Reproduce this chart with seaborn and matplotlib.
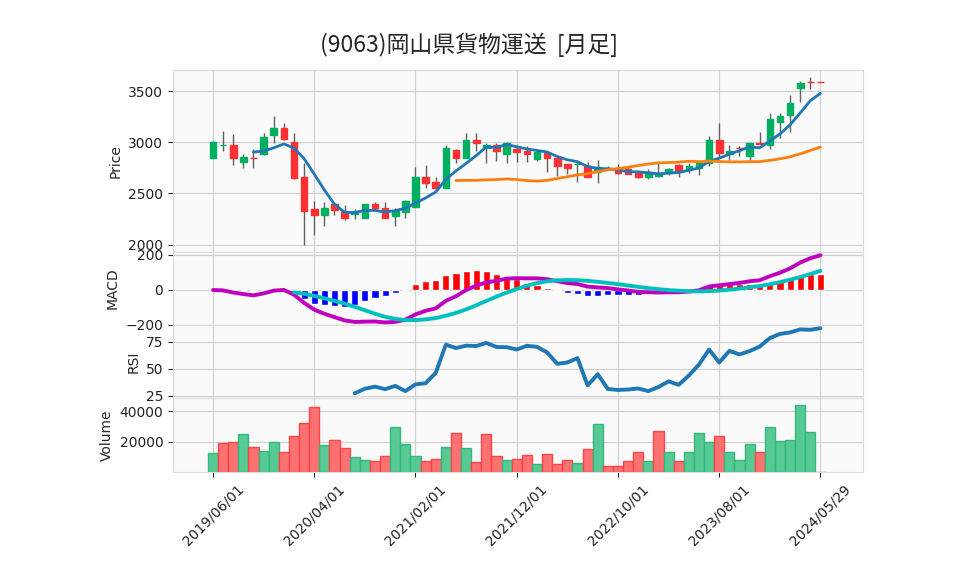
import numpy as np
import pandas as pd
import seaborn as sns
import matplotlib.pyplot as plt

# ---- data (monthly bars + last partial bar) ----
title = '(9063)岡山県貨物運送  [月足]'
dates = list(pd.date_range('2019-06-01', periods=60, freq='MS').strftime('%Y/%m/%d')) + ['2024/05/29']

opens = [2850, 2970, 2977, 2812, 2850, 2888, 3069, 3135, 3003, 2658,
         2345, 2293, 2401, 2319, 2295, 2261, 2395, 2362, 2278, 2323,
         2369, 2657, 2611, 2555, 2925, 2843, 3023, 2941, 2974, 2882,
         2935, 2915, 2833, 2892, 2843, 2784, 2784, 2768, 2706, 2748,
         2742, 2735, 2696, 2657, 2670, 2696, 2775, 2738, 2745, 2794,
         3023, 2885, 2945, 2866, 2993, 2974, 3203, 3268, 3529, 3590,
         3590]
highs = [3010, 3115, 3082, 2885, 2937, 3092, 3257, 3190, 3092, 2796,
         2424, 2418, 2405, 2385, 2343, 2400, 2418, 2418, 2362, 2434,
         2755, 2778, 2657, 2974, 2935, 3095, 3088, 2990, 2990, 3000,
         2974, 2964, 2910, 2900, 2850, 2790, 2795, 2810, 2827, 2770,
         2788, 2755, 2700, 2735, 2800, 2750, 2785, 2800, 2820, 3062,
         3186, 2974, 2960, 2997, 3105, 3291, 3291, 3464, 3600, 3637,
         3590]
lows = [2845, 2911, 2773, 2753, 2753, 2878, 2993, 3026, 2640, 2000,
        2095, 2181, 2286, 2237, 2250, 2255, 2343, 2258, 2180, 2261,
        2369, 2555, 2555, 2555, 2800, 2843, 2918, 2794, 2820, 2794,
        2810, 2810, 2820, 2712, 2670, 2686, 2610, 2660, 2600, 2730,
        2690, 2690, 2650, 2640, 2660, 2680, 2663, 2696, 2680, 2768,
        2859, 2827, 2870, 2827, 2980, 2935, 3039, 3105, 3390, 3523,
        3585]
closes = [3005, 2975, 2846, 2852, 2845, 3052, 3135, 3036, 2648, 2329,
          2293, 2362, 2336, 2260, 2315, 2395, 2360, 2261, 2330, 2425,
          2657, 2604, 2555, 2941, 2843, 3023, 2990, 2974, 2918, 2990,
          2908, 2882, 2902, 2843, 2771, 2745, 2790, 2663, 2755, 2752,
          2698, 2693, 2657, 2705, 2702, 2738, 2719, 2768, 2820, 3023,
          2892, 2915, 2940, 2997, 2987, 3225, 3258, 3389, 3578, 3585,
          3585]
volumes = [12400, 18900, 19500, 25100, 16200, 13800, 19800, 12900, 23800, 32200,
           42900, 17800, 21100, 15800, 9800, 7800, 7100, 10400, 29700, 18400,
           10400, 7100, 8400, 16400, 25800, 15800, 6400, 24900, 10400, 7800,
           8400, 10900, 5600, 11600, 5600, 8200, 6200, 14900, 31500, 4200,
           4200, 7500, 13500, 7500, 26900, 12900, 7500, 12900, 25500, 19800,
           23500, 12900, 8200, 18200, 13500, 29500, 20200, 21100, 44200, 26200,
           200]

df = pd.DataFrame({'Date': dates, 'Open': opens, 'High': highs, 'Low': lows,
                   'Close': closes, 'Volume': volumes})
df['x'] = np.arange(len(df))

# indicators from the closes
df['ma5'] = df['Close'].rolling(5).mean()
df['ma25'] = df['Close'].rolling(25).mean()
ema12 = df['Close'].ewm(span=12, adjust=False).mean()
ema26 = df['Close'].ewm(span=26, adjust=False).mean()
df['macd'] = ema12 - ema26
df['signal'] = df['macd'].rolling(9).mean()
df['hist'] = df['macd'] - df['signal']
diff = df['Close'].diff()
gain = diff.clip(lower=0).rolling(14).mean()
loss = (-diff.clip(upper=0)).rolling(14).mean()
df['rsi'] = 100 * gain / (gain + loss)

# ---- style ----
sns.set_style('whitegrid', rc={'axes.facecolor': '#fafafa', 'grid.color': '#d0d0d0',
                               'axes.edgecolor': '#dcdcdc', 'grid.linewidth': 0.9,
                               'xtick.bottom': True, 'ytick.left': True,
                               'xtick.color': '#222222', 'ytick.color': '#222222'})
plt.rcParams['font.family'] = ['DejaVu Sans', 'Noto Sans CJK JP']

up_c, dn_c = '#00b060', '#fe3032'
vup_c, vdn_c = '#4dc790', '#fd6b6c'

fig = plt.figure(figsize=(9.58, 5.75), dpi=100)
L, W = 173 / 958, 690 / 958
def pos(top, bot):
    return [L, (575 - bot) / 575, W, (bot - top) / 575]

ax_p = fig.add_axes(pos(70, 252))
ax_m = fig.add_axes(pos(252, 325), sharex=ax_p)
ax_r = fig.add_axes(pos(325, 398), sharex=ax_p)
ax_v = fig.add_axes(pos(398, 472), sharex=ax_p)

x = df['x'].values
is_up = df['Close'] > df['Open']
ccol = np.where(is_up, up_c, dn_c)

# candles
ax_p.vlines(x, df['Low'], df['High'], color='#606060', lw=1, zorder=2)
body_lo = np.minimum(df['Open'], df['Close'])
body_h = (df['Close'] - df['Open']).abs()
ax_p.bar(x, body_h, bottom=body_lo, width=0.65, color=ccol, edgecolor=ccol, lw=1, zorder=3)
sns.lineplot(data=df, x='x', y='ma5', ax=ax_p, color='#1f77b4', lw=2, zorder=4)
sns.lineplot(data=df, x='x', y='ma25', ax=ax_p, color='#ff7f0e', lw=2, zorder=4)
ax_p.set_ylim(1927, 3707)
ax_p.set_ylabel('Price', fontsize=10)

# MACD
hcol = np.where(df['hist'] >= 0, '#ff0000', '#0000ff')
ax_m.bar(x, df['hist'].fillna(0), width=0.7, color=hcol, zorder=2)
sns.lineplot(data=df, x='x', y='macd', ax=ax_m, color='#bf00bf', lw=2.8, zorder=3)
sns.lineplot(data=df, x='x', y='signal', ax=ax_m, color='#00bfbf', lw=2.8, zorder=3)
ax_m.set_ylim(-200, 217)
ax_m.set_yticks([-200, 0, 200])
ax_m.set_ylabel('MACD', fontsize=10)

# RSI
sns.lineplot(data=df, x='x', y='rsi', ax=ax_r, color='#1f77b4', lw=2.8)
ax_r.set_ylim(23.1, 90.7)
ax_r.set_yticks([25, 50, 75])
ax_r.set_ylabel('RSI', fontsize=10)

# volume, coloured against the previous close
prev = df['Close'].shift(1)
vup = df['Close'] > prev
vup.iloc[0] = df['Close'].iloc[0] > df['Open'].iloc[0]
vcol = np.where(vup, vup_c, vdn_c)
vedge = np.where(vup, '#2fb878', '#fe4040')
ax_v.bar(x, df['Volume'], width=1.0, color=vcol, edgecolor=vedge, lw=1, alpha=0.95, zorder=2)
ax_v.set_ylim(0.3 * min(volumes), 1.1 * max(volumes))
ax_v.set_yticks([20000, 40000])
ax_v.set_ylabel('Volume', fontsize=10)

ticks = list(range(0, len(df), 10))
ax_v.set_xticks(ticks)
ax_v.set_xticklabels([dates[i] for i in ticks], rotation=45, ha='center', fontsize=10)
ax_v.set_xlim(-3.95, 64.2)

for ax in (ax_p, ax_m, ax_r):
    ax.tick_params(axis='x', bottom=False, labelbottom=False)
    ax.set_xlabel('')
for ax in (ax_p, ax_m, ax_r, ax_v):
    ax.tick_params(axis='y', labelsize=10, length=3.5, color='#222222')
    ax.tick_params(axis='x', length=3.5, color='#222222')
    ax.grid(True)
ax_v.set_xlabel('')

fig.text(469.5 / 958, 1 - 45 / 575, title, ha='center', va='center', fontsize=16.5,
         family=['Noto Sans CJK JP', 'DejaVu Sans'])

fig.savefig('out.png', dpi=100)
